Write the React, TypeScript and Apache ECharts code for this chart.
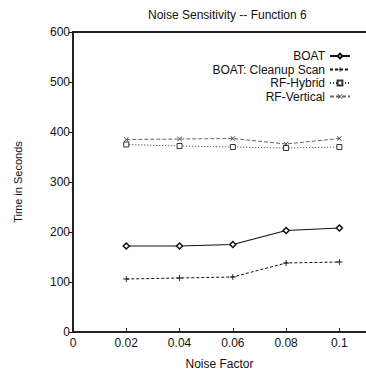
import React, { useEffect, useRef } from "react";
import * as echarts from "echarts";

const noiseFactors = [0.02, 0.04, 0.06, 0.08, 0.1];
const boat = [172, 172, 175, 203, 208];
const boatCleanup = [106, 108, 110, 138, 140];
const rfHybrid = [375, 372, 370, 368, 370];
const rfVertical = [385, 386, 387, 376, 387];
const seriesNames = ["BOAT", "BOAT: Cleanup Scan", "RF-Hybrid", "RF-Vertical"];

const FONT = "Liberation Sans, Arial, sans-serif";
const PLUS = "path://M4.3,0H5.7V10H4.3ZM0,4.3H10V5.7H0Z";
const CROSS = "path://M0,1L1,0L10,9L9,10ZM9,0L10,1L1,10L0,9Z";

export default function App() {
  const ref = useRef<HTMLDivElement>(null);
  useEffect(() => {
    if (!ref.current) return;
    const chart = echarts.init(ref.current, undefined, { renderer: "svg" });
    const pairs = (ys: number[]) => noiseFactors.map((x, i) => [x, ys[i]]);
    chart.setOption({
      animation: false,
      backgroundColor: "#fff",
      textStyle: { fontFamily: FONT },
      title: {
        text: "Noise Sensitivity -- Function 6",
        left: 143,
        top: 4,
        textStyle: { fontFamily: FONT, fontSize: 12, fontWeight: "normal", color: "#111" },
      },
      legend: {
        orient: "vertical",
        right: 10,
        top: 45,
        align: "right",
        itemGap: 1.5,
        itemWidth: 20,
        itemHeight: 6,
        textStyle: { fontFamily: FONT, fontSize: 12, color: "#111", padding: [0, 0, 0, 0] },
        data: seriesNames,
      },
      grid: { left: 73, top: 32, width: 297, height: 300 },
      xAxis: [
        {
          type: "value",
          min: 0,
          max: 0.11,
          interval: 0.02,
          name: "Noise Factor",
          nameLocation: "middle",
          nameGap: 26,
          nameTextStyle: { fontFamily: FONT, fontSize: 12, color: "#111" },
          axisLine: { lineStyle: { color: "#222", width: 2 } },
          axisTick: { inside: true, length: 4, lineStyle: { color: "#222" } },
          axisLabel: {
            showMaxLabel: false,
            fontFamily: FONT,
            fontSize: 12,
            color: "#111",
            margin: 5,
            formatter: (v: number) => String(Math.round(v * 100) / 100),
          },
          splitLine: { show: false },
        },
        {
          type: "value",
          position: "top",
          min: 0,
          max: 0.11,
          axisLine: { show: true, lineStyle: { color: "#222", width: 2 } },
          axisTick: { show: false },
          axisLabel: { show: false },
          splitLine: { show: false },
        },
      ],
      yAxis: {
        type: "value",
        min: 0,
        max: 600,
        interval: 100,
        name: "Time in Seconds",
        nameLocation: "middle",
        nameGap: 50,
        nameTextStyle: { fontFamily: FONT, fontSize: 11, color: "#111" },
        axisLine: { show: true, lineStyle: { color: "#222", width: 2 } },
        axisTick: { show: true, length: 4, lineStyle: { color: "#222" } },
        axisLabel: { fontFamily: FONT, fontSize: 12, color: "#111", margin: 3 },
        splitLine: { show: false },
      },
      series: [
        {
          name: seriesNames[0],
          type: "line",
          data: pairs(boat),
          symbol: "diamond",
          symbolSize: 6,
          itemStyle: { color: "#fff", borderColor: "#111", borderWidth: 1.5 },
          lineStyle: { color: "#111", width: 1.2, type: "solid" },
        },
        {
          name: seriesNames[1],
          type: "line",
          data: pairs(boatCleanup),
          symbol: PLUS,
          symbolSize: 6,
          itemStyle: { color: "#111" },
          lineStyle: { color: "#111", width: 1, type: [3, 2] },
        },
        {
          name: seriesNames[2],
          type: "line",
          data: pairs(rfHybrid),
          symbol: "rect",
          symbolSize: 5,
          itemStyle: { color: "#fff", borderColor: "#333", borderWidth: 1 },
          lineStyle: { color: "#333", width: 1, type: [1, 2] },
        },
        {
          name: seriesNames[3],
          type: "line",
          data: pairs(rfVertical),
          symbol: CROSS,
          symbolSize: 5,
          itemStyle: { color: "#444" },
          lineStyle: { color: "#666", width: 1, type: [4, 2] },
        },
      ],
    });
    return () => chart.dispose();
  }, []);
  return (
    <div
      ref={ref}
      style={{ position: "fixed", left: 0, top: 0, width: 366, height: 375 }}
    />
  );
}
